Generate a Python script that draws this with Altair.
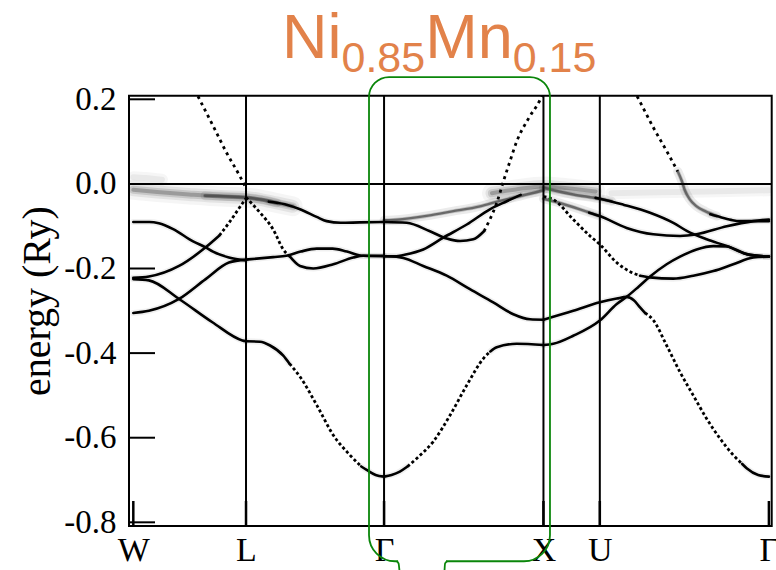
import altair as alt
import pandas as pd

# ---------------- axes / labels ----------------
K_LABELS = ["W", "L", "Γ", "X", "U", "Γ"]
K_POS = [0.0, 0.7071, 1.5731, 2.5731, 2.9267, 3.9874]
Y_TICKS = [0.2, 0.0, -0.2, -0.4, -0.6, -0.8]
X_DOMAIN = [-0.027, 4.005]
Y_DOMAIN = [-0.8087, 0.2085]
Y_TITLE = "energy (Ry)"

TITLE_PARTS = [("Ni", "big"), ("0.85", "sub"), ("Mn", "big"), ("0.15", "sub")]
TITLE_COLOR = "#E2824A"
GREEN = "#0A860A"

# callout bubble (k range, energy range) and the tail
BUBBLE_K = [1.4787, 2.614]
BUBBLE_E = [0.2525, -0.892]
TAIL_GAP_K = [1.661, 1.962]
TAIL_LEFT = [(1.652, -0.892), (1.664, -0.897), (1.672, -0.925)]
TAIL_RIGHT = [(1.951, -0.925), (1.956, -0.897), (1.97, -0.892)]

# ---------------- bands (k, energy in Ry) ----------------
WL_B = [(0.0, -0.090), (0.10, -0.090), (0.16, -0.093), (0.25, -0.107), (0.375, -0.136),
        (0.454, -0.150), (0.50, -0.160), (0.60, -0.174), (0.7071, -0.181)]
WL_D = [(0.0, -0.222), (0.098, -0.219), (0.287, -0.194), (0.454, -0.150), (0.54, -0.122)]
WL_D_DOT = [(0.54, -0.122), (0.600, -0.092), (0.694, -0.041), (0.7071, -0.034)]
WL_E = [(0.0, -0.225), (0.098, -0.228), (0.287, -0.272), (0.496, -0.327), (0.684, -0.370), (0.7071, -0.372)]
WL_F = [(0.0, -0.305), (0.098, -0.300), (0.287, -0.272), (0.454, -0.225), (0.600, -0.186), (0.7071, -0.179)]
SP_WL = [(0.386, 0.222), (0.418, 0.198), (0.502, 0.136), (0.586, 0.073), (0.669, 0.018), (0.7071, -0.010)]
A_BROAD = [(0.0, -0.014), (0.15, -0.019), (0.35, -0.025), (0.55, -0.030), (0.7071, -0.032),
           (0.80, -0.037), (0.90, -0.045), (1.0, -0.053)]
A_SOFT = [(0.45, -0.028), (0.7071, -0.032), (0.80, -0.037), (0.90, -0.045)]
A_SHARP = [(0.85, -0.042), (0.95, -0.048), (1.046, -0.060), (1.15, -0.078), (1.213, -0.088),
           (1.30, -0.092), (1.42, -0.091), (1.5731, -0.090)]
W_UP = [(0.0, 0.016), (0.08, 0.014), (0.18, 0.010)]
LG_DOT = [(0.7071, -0.032), (0.795, -0.068), (0.878, -0.108), (0.941, -0.155), (0.983, -0.172)]
LG_LOW = [(0.983, -0.172), (1.046, -0.194), (1.129, -0.200), (1.255, -0.190), (1.380, -0.174),
          (1.443, -0.170), (1.5731, -0.170)]
LG_UP = [(0.7071, -0.179), (0.878, -0.173), (0.96, -0.170), (1.05, -0.160), (1.151, -0.153),
         (1.25, -0.153), (1.34, -0.160), (1.443, -0.170), (1.5731, -0.171)]
LG_BOT1 = [(0.7071, -0.372), (0.795, -0.373), (0.858, -0.382), (0.941, -0.406), (0.98, -0.425)]
LG_BOT_DOT = [(0.98, -0.425), (1.046, -0.456), (1.151, -0.523), (1.255, -0.594), (1.359, -0.641), (1.43, -0.668)]
LG_BOT2 = [(1.43, -0.668), (1.464, -0.676), (1.52, -0.688), (1.5731, -0.692)]
GX_BOT1 = [(1.5731, -0.692), (1.62, -0.688), (1.672, -0.680), (1.72, -0.668)]
GX_BOT_DOT = [(1.72, -0.668), (1.778, -0.649), (1.882, -0.609), (1.987, -0.547), (2.092, -0.476),
              (2.196, -0.413), (2.24, -0.396)]
GX_BOT2 = [(2.24, -0.396), (2.280, -0.386), (2.405, -0.378), (2.5731, -0.381)]
GX_DOWN = [(1.5731, -0.171), (1.65, -0.172), (1.694, -0.175), (1.819, -0.194), (1.966, -0.217),
           (2.112, -0.249), (2.258, -0.280), (2.384, -0.308), (2.489, -0.320), (2.5731, -0.321)]
GX_UP = [(1.5731, -0.171), (1.65, -0.171), (1.694, -0.168), (1.819, -0.155), (1.945, -0.127),
         (2.092, -0.096), (2.237, -0.060), (2.343, -0.041), (2.43, -0.026)]
GX_SP = [(1.5731, -0.090), (1.715, -0.092), (1.861, -0.112), (1.966, -0.129), (2.050, -0.135),
         (2.133, -0.131), (2.20, -0.112)]
GX_SP_DOT = [(2.20, -0.112), (2.237, -0.084), (2.28, -0.045), (2.321, 0.005), (2.36, 0.05),
             (2.405, 0.10), (2.48, 0.155), (2.551, 0.198), (2.58, 0.222)]
GX_FAINT = [(1.5731, -0.086), (1.672, -0.084), (1.85, -0.075), (2.0, -0.065), (2.175, -0.053),
            (2.30, -0.040), (2.426, -0.029), (2.5731, -0.015)]
BROAD_X = [(2.25, -0.022), (2.40, -0.013), (2.5731, -0.006), (2.72, -0.010), (2.90, -0.018)]
XG_LOWER = [(2.5731, -0.381), (2.635, -0.378), (2.760, -0.359), (2.9267, -0.323), (3.033, -0.284),
            (3.095, -0.267), (3.17, -0.243), (3.242, -0.219), (3.346, -0.190), (3.430, -0.172),
            (3.534, -0.155), (3.639, -0.147), (3.723, -0.148), (3.848, -0.166), (3.9874, -0.172)]
XG_DOT = [(2.5731, -0.030), (2.635, -0.037), (2.760, -0.084), (2.865, -0.123), (2.9267, -0.143),
          (3.033, -0.186), (3.12, -0.208), (3.179, -0.217)]
XG_FLAT = [(3.179, -0.217), (3.242, -0.221), (3.388, -0.224), (3.513, -0.217), (3.639, -0.206),
           (3.764, -0.190), (3.890, -0.174), (3.9874, -0.172)]
XG_P_SOFT = [(2.5731, -0.009), (2.635, -0.015), (2.760, -0.025), (2.9267, -0.035), (3.0, -0.041)]
XG_P = [(2.90, -0.033), (2.9267, -0.035), (3.074, -0.049), (3.242, -0.068), (3.388, -0.092),
        (3.472, -0.111), (3.597, -0.131), (3.723, -0.147), (3.848, -0.166), (3.9874, -0.172)]
XG_Q_SOFT = [(2.5731, -0.035), (2.635, -0.041), (2.802, -0.060), (2.9267, -0.076)]
XG_Q = [(2.86, -0.068), (2.9267, -0.076), (3.095, -0.104), (3.262, -0.119), (3.430, -0.123),
        (3.534, -0.119), (3.723, -0.100), (3.890, -0.088), (3.9874, -0.084)]
XG_SP_DOT = [(3.14, 0.222), (3.179, 0.194), (3.26, 0.135), (3.35, 0.075), (3.415, 0.030)]
XG_SP_SOFT = [(3.415, 0.030), (3.44, 0.008), (3.46, -0.015), (3.49, -0.036), (3.53, -0.052),
              (3.59, -0.065), (3.66, -0.076)]
XG_SP = [(3.62, -0.072), (3.660, -0.076), (3.75, -0.085), (3.806, -0.088), (3.9874, -0.088)]
XG_B2 = [(2.5731, -0.321), (2.760, -0.300), (2.9267, -0.280), (3.033, -0.271), (3.095, -0.267),
         (3.14, -0.275), (3.179, -0.292), (3.21, -0.305)]
XG_B2_DOT = [(3.21, -0.305), (3.262, -0.322), (3.346, -0.382), (3.430, -0.445), (3.513, -0.500),
             (3.597, -0.555), (3.681, -0.602), (3.764, -0.641), (3.82, -0.662)]
XG_B2_END = [(3.82, -0.662), (3.848, -0.672), (3.92, -0.688), (3.9874, -0.692)]
BROAD_RG = [(3.0, -0.022), (3.3, -0.020), (3.6, -0.018), (3.9874, -0.015)]

BANDS = [
    ("W_UP", "faint", W_UP), ("A_BROAD", "broad", A_BROAD), ("BROAD_X", "broad", BROAD_X),
    ("BROAD_RG", "faint", BROAD_RG),
    ("A_SOFT", "soft", A_SOFT), ("GX_FAINT", "soft", GX_FAINT), ("XG_P_SOFT", "soft", XG_P_SOFT),
    ("XG_Q_SOFT", "soft", XG_Q_SOFT), ("XG_SP_SOFT", "soft", XG_SP_SOFT),
    ("WL_B", "solid", WL_B), ("WL_D", "solid", WL_D), ("WL_E", "solid", WL_E), ("WL_F", "solid", WL_F),
    ("A_SHARP", "solid", A_SHARP), ("LG_LOW", "solid", LG_LOW), ("LG_UP", "solid", LG_UP),
    ("LG_BOT1", "solid", LG_BOT1), ("LG_BOT2", "solid", LG_BOT2), ("GX_BOT1", "solid", GX_BOT1),
    ("GX_BOT2", "solid", GX_BOT2), ("GX_DOWN", "solid", GX_DOWN), ("GX_UP", "solid", GX_UP),
    ("GX_SP", "solid", GX_SP), ("XG_LOWER", "solid", XG_LOWER), ("XG_FLAT", "solid", XG_FLAT),
    ("XG_P", "solid", XG_P), ("XG_Q", "solid", XG_Q), ("XG_SP", "solid", XG_SP),
    ("XG_B2", "solid", XG_B2), ("XG_B2_END", "solid", XG_B2_END),
    ("WL_D_DOT", "dot", WL_D_DOT), ("LG_DOT", "dot", LG_DOT), ("LG_BOT_DOT", "dot", LG_BOT_DOT),
    ("GX_BOT_DOT", "dot", GX_BOT_DOT), ("XG_DOT", "dot", XG_DOT), ("XG_B2_DOT", "dot", XG_B2_DOT),
    ("SP_WL", "dotsp", SP_WL), ("GX_SP_DOT", "dotsp", GX_SP_DOT), ("XG_SP_DOT", "dotsp", XG_SP_DOT),
]

rows = []
for name, style, pts in BANDS:
    for i, (k, e) in enumerate(pts):
        rows.append({"band": name, "style": style, "i": i, "k": k, "e": e})
df = pd.DataFrame(rows)

W, H = 642.7, 430.3
SERIF = "Liberation Serif"


def x_label_expr():
    expr = f"'{K_LABELS[-1]}'"
    for i in range(len(K_POS) - 2, -1, -1):
        mid = (K_POS[i] + K_POS[i + 1]) / 2
        expr = f"datum.value < {mid:.4f} ? '{K_LABELS[i]}' : ({expr})"
    return expr


xaxis = alt.Axis(values=K_POS, labelExpr=x_label_expr(), labelFont=SERIF, labelFontSize=34,
                 labelColor="black", labelPadding=7, labelOverlap=False, labelFlush=False,
                 labelBound=False, ticks=False, domain=False, grid=False, title=None)
yaxis = alt.Axis(values=Y_TICKS, labelExpr="replace(format(datum.value, '.1f'), '\u2212', '-')",
                 labelFont=SERIF, labelFontSize=33, labelColor="black", labelPadding=13,
                 labelOverlap=False, labelFlush=False, labelBound=False, ticks=False, domain=False,
                 grid=False, title=Y_TITLE, titleFont=SERIF, titleFontSize=40,
                 titleFontWeight="normal", titleColor="black", titlePadding=6, titleY=205)
xs = alt.Scale(domain=X_DOMAIN, nice=False, zero=False)
ys = alt.Scale(domain=Y_DOMAIN, nice=False, zero=False)


def X(field="k"):
    return alt.X(f"{field}:Q", scale=xs, axis=xaxis)


def Y(field="e"):
    return alt.Y(f"{field}:Q", scale=ys, axis=yaxis)


def band_layer(style, color, width, opacity, dash=None, cap="round"):
    kw = dict(color=color, strokeWidth=width, opacity=opacity, interpolate="monotone",
              clip=True, strokeCap=cap, strokeJoin="round")
    if dash:
        kw["strokeDash"] = dash
    return (alt.Chart(df).transform_filter(alt.datum.style == style)
            .mark_line(**kw)
            .encode(x=X(), y=Y(), detail="band:N", order="i:Q"))


layers = [
    band_layer("broad", "black", 20, 0.04),
    band_layer("broad", "black", 13, 0.07),
    band_layer("broad", "black", 8, 0.12),
    band_layer("broad", "black", 4, 0.22),
    band_layer("faint", "black", 12, 0.035),
    band_layer("faint", "black", 6, 0.05),
    band_layer("soft", "black", 9, 0.08),
    band_layer("soft", "black", 4, 0.18),
    band_layer("soft", "#444444", 2.4, 0.7),
    band_layer("solid", "black", 6, 0.06),
    band_layer("solid", "black", 2.6, 1.0),
    band_layer("dot", "black", 2.8, 1.0, dash=[3, 2.5], cap="butt"),
    band_layer("dotsp", "black", 2.8, 1.0, dash=[3, 4], cap="butt"),
]

# symmetry lines, Fermi level, ticks
vl = alt.Chart(pd.DataFrame({"k": K_POS[1:5]})).mark_rule(color="black", strokeWidth=2).encode(x=X())
fermi = alt.Chart(pd.DataFrame({"e": [0.0]})).mark_rule(color="black", strokeWidth=2).encode(y=Y())
yt = alt.Chart(pd.DataFrame({"e": [t for t in Y_TICKS if t != 0.0]})).mark_rule(
    color="black", strokeWidth=2).encode(y=Y(), x=alt.value(0), x2=alt.value(26))
xt = alt.Chart(pd.DataFrame({"k": K_POS})).mark_rule(color="black", strokeWidth=2.5).encode(
    x=X(), y=alt.value(H), y2=alt.value(H - 25))
layers += [vl, fermi, yt, xt]

# callout bubble
bub = alt.Chart(pd.DataFrame({"k": [BUBBLE_K[0]], "k2": [BUBBLE_K[1]],
                              "e": [BUBBLE_E[0]], "e2": [BUBBLE_E[1]]})).mark_rect(
    filled=False, color=GREEN, strokeWidth=1.8, cornerRadiusTopLeft=20, cornerRadiusTopRight=20,
    cornerRadiusBottomLeft=26, cornerRadiusBottomRight=26).encode(
    x=X(), x2=alt.X2("k2"), y=Y(), y2=alt.Y2("e2"))
gap = alt.Chart(pd.DataFrame({"k": [TAIL_GAP_K[0]], "k2": [TAIL_GAP_K[1]], "e": [BUBBLE_E[1]]})).mark_rule(
    color="white", strokeWidth=4).encode(x=X(), x2=alt.X2("k2"), y=Y())
tail_rows = [{"side": "l", "i": i, "k": k, "e": e} for i, (k, e) in enumerate(TAIL_LEFT)] + \
            [{"side": "r", "i": i, "k": k, "e": e} for i, (k, e) in enumerate(TAIL_RIGHT)]
tail = alt.Chart(pd.DataFrame(tail_rows)).mark_line(
    color=GREEN, strokeWidth=1.8, interpolate="monotone").encode(
    x=X(), y=Y(), detail="side:N", order="i:Q")
layers += [bub, gap, tail]

# title with subscripts
ADV = {"N": 0.722, "i": 0.222, "M": 0.833, "n": 0.556, "0": 0.556, ".": 0.278,
       "8": 0.556, "5": 0.556, "1": 0.556}
SIZES = {"big": 63, "sub": 43}
BASE = {"big": -37.4, "sub": -24.0}
xpos = 153.0
for txt, kind in TITLE_PARTS:
    layers.append(alt.Chart(pd.DataFrame({"t": [txt]})).mark_text(
        font="Liberation Sans", fontSize=SIZES[kind], color=TITLE_COLOR, align="left",
        baseline="alphabetic").encode(text="t:N", x=alt.value(xpos), y=alt.value(BASE[kind])))
    xpos += sum(ADV[c] for c in txt) * SIZES[kind]

chart = alt.layer(*layers).properties(
    width=W, height=H,
    autosize=alt.AutoSizeParams(type="none"),
    padding={"left": 129, "top": 95.7, "right": 4.3, "bottom": 44},
    background="white",
).configure_view(stroke="black", strokeWidth=2)

chart.save("out.html", embed_options={"renderer": "svg", "actions": False})
